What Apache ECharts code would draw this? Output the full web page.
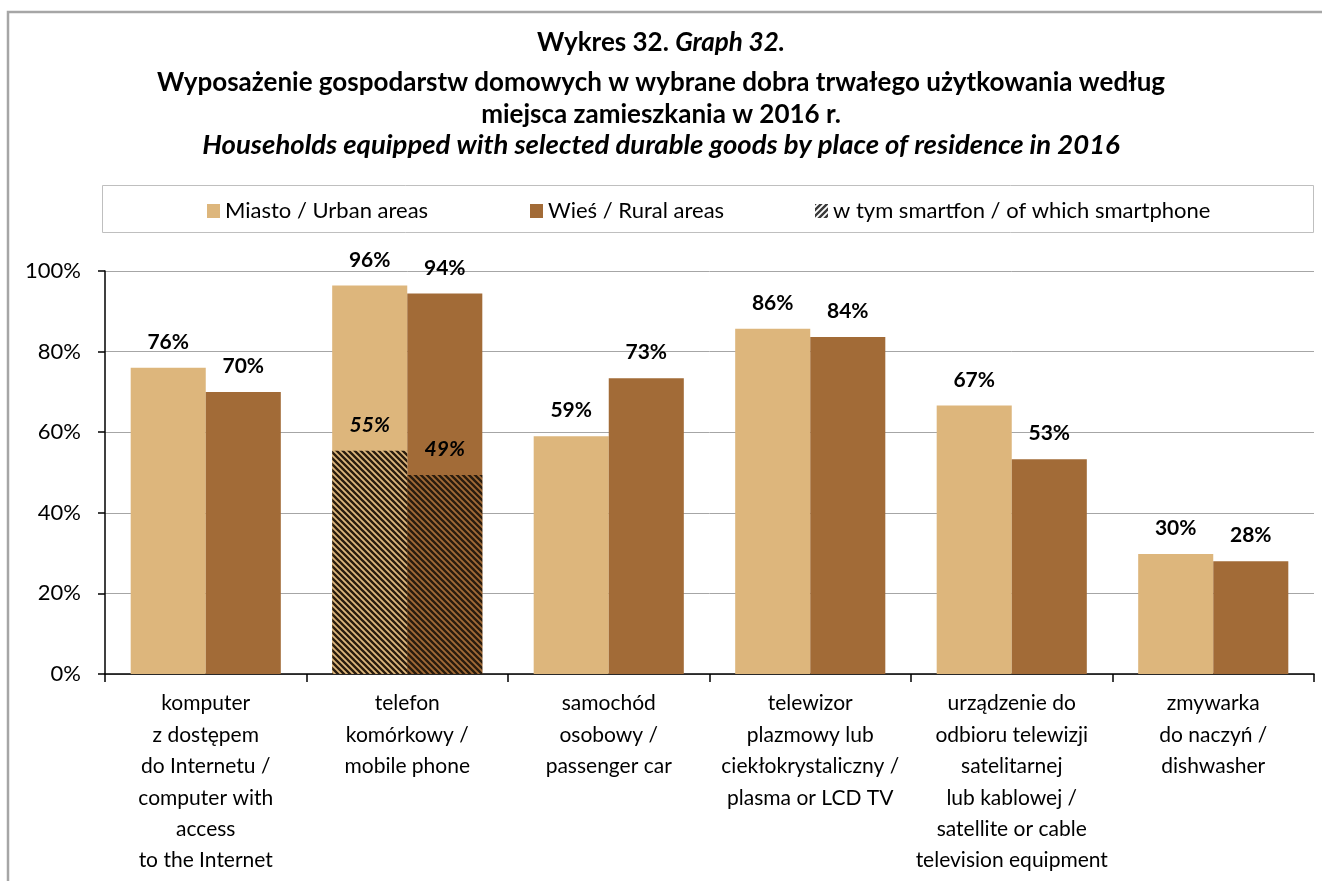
<!DOCTYPE html>
<html>
<head>
<meta charset="utf-8">
<script src="https://cdn.jsdelivr.net/npm/echarts@6/dist/echarts.min.js"></script>
<style>
html,body{margin:0;padding:0;background:#fff;}
#chart{width:1322px;height:881px;}
</style>
</head>
<body>
<div id="chart"></div>
<script>
// ---- data ----
const categories = [
  "komputer\nz dostępem\ndo Internetu /\ncomputer with\naccess\nto the Internet",
  "telefon\nkomórkowy /\nmobile phone",
  "samochód\nosobowy /\npassenger car",
  "telewizor\nplazmowy lub\nciekłokrystaliczny /\nplasma or LCD TV",
  "urządzenie do\nodbioru telewizji\nsatelitarnej\nlub kablowej /\nsatellite or cable\ntelevision equipment",
  "zmywarka\ndo naczyń /\ndishwasher"
];
const urban = [76.0, 96.4, 59.0, 85.7, 66.6, 29.8];
const rural = [70.0, 94.4, 73.4, 83.6, 53.3, 28.0];
const urbanSmartphone = [null, 55.4, null, null, null, null];
const ruralSmartphone = [null, 49.4, null, null, null, null];
const yTicks = [0, 20, 40, 60, 80, 100];
const seriesNames = ["Miasto / Urban areas", "Wieś / Rural areas", "w tym smartfon / of which smartphone"];
const titleLines = [
  "Wyposażenie gospodarstw domowych w wybrane dobra trwałego użytkowania według",
  "miejsca zamieszkania w 2016 r.",
  "Households equipped with selected durable goods by place of residence in 2016"
];

// ---- styles ----
const FONT = 'Lato, "Open Sans", sans-serif';
const C_URBAN = '#DDB67C';
const C_RURAL = '#A26B37';

function hatch(bg, fg, up){
  const s = 6;
  const c = document.createElement('canvas');
  c.width = s; c.height = s;
  const ctx = c.getContext('2d');
  ctx.fillStyle = bg; ctx.fillRect(0,0,s,s);
  ctx.strokeStyle = fg; ctx.lineWidth = 2.4;
  ctx.beginPath();
  if (up) {
    ctx.moveTo(-1,s+1); ctx.lineTo(s+1,-1);
    ctx.moveTo(-1,1); ctx.lineTo(1,-1);
    ctx.moveTo(s-1,s+1); ctx.lineTo(s+1,s-1);
  } else {
    ctx.moveTo(-1,-1); ctx.lineTo(s+1,s+1);
    ctx.moveTo(-1,s-1); ctx.lineTo(1,s+1);
    ctx.moveTo(s-1,-1); ctx.lineTo(s+1,1);
  }
  ctx.stroke();
  return c;
}
const patUrban = {image: hatch(C_URBAN, '#2a1c0e', false), repeat: 'repeat'};
const patRural = {image: hatch(C_RURAL, '#2a1c0e', false), repeat: 'repeat'};
const patLegend = {image: hatch('#ffffff', '#3a3a3a', true), repeat: 'repeat'};

const chart = echarts.init(document.getElementById('chart'), null, {renderer: 'canvas'});
const pct = p => Math.round(p.value) + '%';
const labelMain = {show: true, position: 'top', distance: 15, formatter: pct,
  color: '#000', fontFamily: FONT, fontWeight: 'bold', fontSize: 21};
const labelSmart = {show: true, position: 'top', distance: 15, formatter: pct,
  color: '#000', fontFamily: FONT, fontWeight: 'bold', fontStyle: 'italic', fontSize: 21};

const legendCommon = {top: 195, icon: 'rect', itemWidth: 13, itemHeight: 14, itemGap: 5,
  textStyle: {fontFamily: FONT, fontSize: 22, color: '#000'}, selectedMode: false};

const option = {
  backgroundColor: '#fff',
  animation: false,
  title: [
    {text: '{b|Wykres 32. }{bi|Graph 32.}', left: 'center', top: 25,
      textStyle: {rich: {
        b: {fontFamily: FONT, fontWeight: 'bold', fontSize: 26, color: '#000'},
        bi: {fontFamily: FONT, fontWeight: 'bold', fontStyle: 'italic', fontSize: 26, color: '#000'}}}},
    {text: titleLines[0], left: 'center', top: 65,
      textStyle: {fontFamily: FONT, fontWeight: 'bold', fontSize: 26, color: '#000'}},
    {text: titleLines[1], left: 'center', top: 97,
      textStyle: {fontFamily: FONT, fontWeight: 'bold', fontSize: 26, color: '#000'}},
    {text: titleLines[2], left: 'center', top: 127,
      textStyle: {fontFamily: FONT, fontWeight: 'bold', fontStyle: 'italic', fontSize: 27.5, color: '#000'}}
  ],
  legend: [
    Object.assign({left: 202, data: [seriesNames[0]]}, legendCommon),
    Object.assign({left: 525, data: [seriesNames[1]]}, legendCommon),
    Object.assign({left: 810, data: [{name: seriesNames[2], itemStyle: {color: patLegend}}]}, legendCommon)
  ],
  graphic: [
    {type: 'polyline', shape: {points: [[8,881],[8,12],[1322,12]]},
      style: {stroke: '#a6a6a6', lineWidth: 2.5, fill: null}, silent: true},
    {type: 'rect', shape: {x: 102.5, y: 185.5, width: 1211, height: 47},
      style: {stroke: '#bfbfbf', lineWidth: 1, fill: null}, silent: true, z: -1}
  ],
  grid: {left: 105, right: 8, top: 271, bottom: 207, containLabel: false},
  xAxis: [
    {type: 'category', data: categories,
      axisLine: {show: true, lineStyle: {color: '#000', width: 1.5}},
      axisTick: {show: true, length: 8, lineStyle: {color: '#000', width: 1.5}},
      axisLabel: {interval: 0, margin: 14, color: '#000', fontFamily: FONT, fontSize: 21, lineHeight: 31.4}},
    {type: 'category', data: categories, show: false}
  ],
  yAxis: {
    type: 'value', min: yTicks[0], max: yTicks[yTicks.length-1], interval: 20,
    axisLine: {show: true, lineStyle: {color: '#000', width: 1.5}},
    axisTick: {show: true, length: 7, lineStyle: {color: '#000', width: 1.5}},
    axisLabel: {formatter: '{value}%', margin: 24, color: '#000', fontFamily: FONT, fontSize: 22},
    splitLine: {show: true, lineStyle: {color: '#a6a6a6', width: 1}}
  },
  series: [
    {name: seriesNames[0], type: 'bar', data: urban, xAxisIndex: 0,
      barGap: '0%', barCategoryGap: '25.5%',
      itemStyle: {color: C_URBAN}, label: labelMain},
    {name: seriesNames[1], type: 'bar', data: rural, xAxisIndex: 0,
      barGap: '0%', barCategoryGap: '25.5%',
      itemStyle: {color: C_RURAL}, label: labelMain},
    {name: seriesNames[2], type: 'bar', data: urbanSmartphone, xAxisIndex: 1,
      barGap: '0%', barCategoryGap: '25.5%',
      itemStyle: {color: patUrban}, label: labelSmart},
    {name: 'smartfon (wieś)', type: 'bar', data: ruralSmartphone, xAxisIndex: 1,
      barGap: '0%', barCategoryGap: '25.5%',
      itemStyle: {color: patRural}, label: labelSmart}
  ]
};
chart.setOption(option);
</script>
</body>
</html>
